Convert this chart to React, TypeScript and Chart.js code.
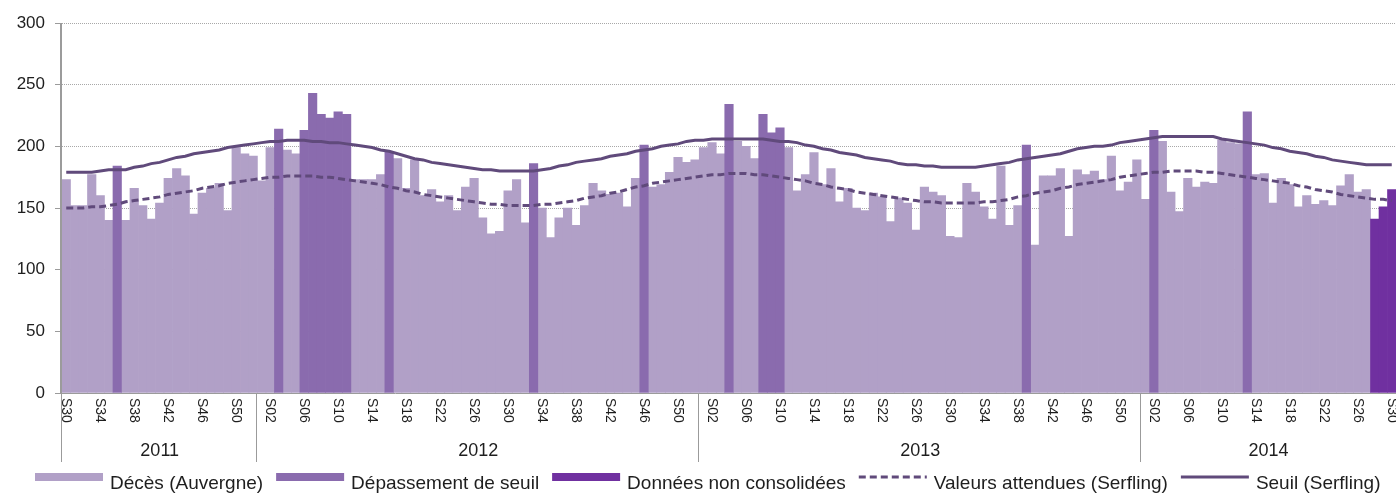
import React, { useEffect, useRef } from 'react';
import { Chart, registerables } from 'chart.js';

Chart.register(...registerables);

// ---- Categories ----
const YEARS = ['2011', '2012', '2013', '2014'];
const FIRST_WEEK = [30, 1, 1, 1];
const LAST_WEEK = [52, 52, 52, 30];

// ---- Tick labels shown on the week axis ----
const TICKS_2011 = ['S30', 'S34', 'S38', 'S42', 'S46', 'S50'];
const TICKS_2012 = ['S02', 'S06', 'S10', 'S14', 'S18', 'S22', 'S26', 'S30', 'S34', 'S38', 'S42', 'S46', 'S50'];
const TICKS_2013 = ['S02', 'S06', 'S10', 'S14', 'S18', 'S22', 'S26', 'S30', 'S34', 'S38', 'S42', 'S46', 'S50'];
const TICKS_2014 = ['S02', 'S06', 'S10', 'S14', 'S18', 'S22', 'S26', 'S30'];

// ---- Weekly deaths (Auvergne) ----
const DEATHS_2011 = [173, 152, 152, 177, 160, 140, 184, 140, 166, 152, 141, 154, 174, 182, 176, 145, 162, 166, 170, 148, 199, 194, 192];
const DEATHS_2012 = [172, 199, 214, 197, 194, 213, 243, 226, 223, 228, 226, 173, 173, 173, 177, 196, 190, 166, 189, 160, 165, 155, 160, 148, 167, 174, 142, 129, 131, 164, 173, 138, 186, 150, 126, 142, 150, 136, 152, 170, 164, 161, 162, 151, 174, 201, 167, 169, 179, 191, 187, 189];
const DEATHS_2013 = [199, 203, 194, 234, 204, 200, 190, 226, 211, 215, 199, 164, 177, 195, 169, 182, 155, 166, 150, 148, 162, 159, 139, 158, 154, 132, 167, 163, 160, 127, 126, 170, 163, 151, 141, 184, 136, 152, 201, 120, 176, 176, 182, 127, 181, 177, 180, 173, 192, 164, 171, 189];
const DEATHS_2014 = [157, 213, 204, 163, 147, 174, 167, 171, 170, 205, 203, 202, 228, 177, 178, 154, 174, 169, 151, 160, 153, 156, 152, 168, 177, 163, 165, 141, 151, 165];

// ---- Weeks above threshold / provisional weeks ----
const EXCEEDED_2011 = ['S36'];
const EXCEEDED_2012 = ['S03', 'S06', 'S07', 'S08', 'S09', 'S10', 'S11', 'S16', 'S33', 'S46'];
const EXCEEDED_2013 = ['S04', 'S08', 'S09', 'S10', 'S39'];
const EXCEEDED_2014 = ['S02', 'S13'];
const PROVISIONAL_2014 = ['S28', 'S29', 'S30'];

// ---- Serfling threshold ----
const SEUIL_2011 = [179, 179, 179, 179, 180, 181, 181, 181, 183, 184, 186, 187, 189, 191, 192, 194, 195, 196, 197, 199, 200, 201, 202];
const SEUIL_2012 = [203, 204, 204, 205, 205, 205, 204, 204, 203, 203, 202, 201, 200, 199, 197, 196, 194, 192, 190, 189, 187, 186, 185, 184, 183, 182, 181, 181, 180, 180, 180, 180, 180, 181, 182, 184, 185, 187, 188, 189, 190, 192, 193, 194, 196, 197, 198, 200, 201, 202, 204, 205];
const SEUIL_2013 = [205, 206, 206, 206, 206, 206, 206, 206, 205, 204, 204, 203, 201, 200, 198, 197, 195, 194, 193, 191, 190, 189, 188, 186, 185, 185, 184, 184, 183, 183, 183, 183, 183, 184, 185, 186, 187, 189, 190, 191, 192, 193, 194, 196, 198, 199, 200, 200, 201, 203, 204, 205];
const SEUIL_2014 = [206, 207, 208, 208, 208, 208, 208, 208, 208, 206, 205, 204, 203, 202, 201, 199, 198, 196, 195, 194, 192, 191, 189, 188, 187, 186, 185, 185, 185, 185];

// ---- Serfling expected values ----
const ATTENDU_2011 = [150, 150, 150, 151, 151, 152, 153, 155, 156, 157, 158, 159, 161, 162, 163, 164, 166, 167, 168, 170, 171, 172, 173];
const ATTENDU_2012 = [174, 175, 175, 176, 176, 176, 176, 175, 175, 174, 173, 172, 171, 170, 169, 167, 166, 164, 163, 161, 160, 159, 158, 157, 156, 155, 154, 153, 153, 152, 152, 152, 152, 153, 153, 154, 155, 156, 158, 159, 160, 162, 163, 165, 167, 168, 170, 171, 172, 173, 174, 175];
const ATTENDU_2013 = [176, 177, 177, 178, 178, 178, 177, 177, 176, 175, 174, 173, 172, 170, 169, 167, 166, 165, 163, 162, 161, 160, 159, 158, 157, 156, 155, 155, 154, 154, 154, 154, 154, 155, 155, 156, 157, 159, 160, 162, 163, 164, 166, 167, 169, 170, 171, 172, 173, 175, 176, 177];
const ATTENDU_2014 = [178, 179, 179, 180, 180, 180, 180, 179, 179, 178, 177, 176, 175, 174, 173, 172, 171, 170, 168, 167, 165, 164, 163, 161, 160, 159, 158, 157, 157, 156];

// ---- Colours ----
const C_LIGHT = '#b1a0c7';
const C_EXCEEDED = '#8a6bae';
const C_PROVISIONAL = '#7030a0';
const C_LINE = '#604a7b';
const FONT = '"Liberation Sans", Arial, sans-serif';
const TEXT = '#1e1e1e';

const LEGEND_LABELS = ['Décès (Auvergne)', 'Dépassement de seuil', 'Données non consolidées', 'Valeurs attendues (Serfling)', 'Seuil (Serfling)'];

const pad2 = (n: number) => (n < 10 ? '0' + n : '' + n);

function buildTable() {
  const deaths = [DEATHS_2011, DEATHS_2012, DEATHS_2013, DEATHS_2014];
  const seuil = [SEUIL_2011, SEUIL_2012, SEUIL_2013, SEUIL_2014];
  const attendu = [ATTENDU_2011, ATTENDU_2012, ATTENDU_2013, ATTENDU_2014];
  const exceeded = [EXCEEDED_2011, EXCEEDED_2012, EXCEEDED_2013, EXCEEDED_2014];
  const provisional = [[], [], [], PROVISIONAL_2014];
  const ticks = [TICKS_2011, TICKS_2012, TICKS_2013, TICKS_2014];
  const labels: string[] = [];
  const tickText: (string | null)[] = [];
  const normal: (number | null)[] = [];
  const over: (number | null)[] = [];
  const prov: (number | null)[] = [];
  const lineSeuil: number[] = [];
  const lineAttendu: number[] = [];
  const groups: { year: string; start: number; end: number }[] = [];
  YEARS.forEach((year, y) => {
    const start = labels.length;
    for (let w = FIRST_WEEK[y]; w <= LAST_WEEK[y]; w++) {
      const j = w - FIRST_WEEK[y];
      const wk = 'S' + pad2(w);
      labels.push(year + '-' + wk);
      tickText.push(ticks[y].includes(wk) ? wk : null);
      const v = deaths[y][j];
      const isProv = (provisional[y] as string[]).includes(wk);
      const isOver = exceeded[y].includes(wk);
      normal.push(!isProv && !isOver ? v : null);
      over.push(isOver ? v : null);
      prov.push(isProv ? v : null);
      lineSeuil.push(seuil[y][j]);
      lineAttendu.push(attendu[y][j]);
    }
    groups.push({ year, start, end: labels.length - 1 });
  });
  return { labels, tickText, normal, over, prov, lineSeuil, lineAttendu, groups };
}

export default function App() {
  const canvasRef = useRef<HTMLCanvasElement | null>(null);

  useEffect(() => {
    const canvas = canvasRef.current;
    if (!canvas) return;
    const t = buildTable();

    const decor = {
      id: 'decor',
      afterDatasetsDraw(chart: any) {
        const { ctx, chartArea: a } = chart;
        ctx.save();
        ctx.strokeStyle = '#9b9b9b';
        ctx.lineWidth = 2;
        ctx.beginPath();
        ctx.moveTo(a.left - 1, a.top);
        ctx.lineTo(a.left - 1, a.bottom);
        ctx.stroke();
        ctx.lineWidth = 1;
        ctx.beginPath();
        ctx.moveTo(a.left, a.bottom + 0.5);
        ctx.lineTo(a.right, a.bottom + 0.5);
        ctx.stroke();
        ctx.restore();
      },
      afterDraw(chart: any) {
        const { ctx, chartArea: a } = chart;
        const xs = chart.scales.x;
        ctx.save();
        // week labels, rotated clockwise
        ctx.fillStyle = TEXT;
        ctx.font = '14px ' + FONT;
        ctx.textAlign = 'left';
        ctx.textBaseline = 'middle';
        t.tickText.forEach((txt, i) => {
          if (!txt) return;
          const px = xs.getPixelForValue(i);
          ctx.save();
          ctx.translate(px, a.bottom + 5);
          ctx.rotate(Math.PI / 2);
          ctx.fillText(txt, 0, 0);
          ctx.restore();
        });
        // year groups
        ctx.strokeStyle = '#9b9b9b';
        ctx.lineWidth = 1;
        ctx.font = '18px ' + FONT;
        ctx.textAlign = 'center';
        ctx.textBaseline = 'alphabetic';
        t.groups.forEach((g) => {
          const l = xs.getPixelForValue(g.start - 0.5);
          const r = Math.min(xs.getPixelForValue(g.end + 0.5), chart.width);
          ctx.beginPath();
          ctx.moveTo(Math.round(l) - 0.5, a.bottom);
          ctx.lineTo(Math.round(l) - 0.5, a.bottom + 69);
          ctx.stroke();
          ctx.fillText(g.year, (l + r) / 2, a.bottom + 63);
        });
        // legend
        const ly = a.bottom + 84;
        const boxW = 68;
        let x = 35;
        ctx.font = '19px ' + FONT;
        ctx.textAlign = 'left';
        const kinds = ['box', 'box', 'box', 'dash', 'line'];
        const colors = [C_LIGHT, C_EXCEEDED, C_PROVISIONAL, C_LINE, C_LINE];
        LEGEND_LABELS.forEach((lab, i) => {
          if (kinds[i] === 'box') {
            ctx.fillStyle = colors[i];
            ctx.fillRect(x, ly - 4, boxW, 8);
          } else {
            ctx.strokeStyle = colors[i];
            ctx.lineWidth = 3;
            ctx.setLineDash(kinds[i] === 'dash' ? [7, 4] : []);
            ctx.beginPath();
            ctx.moveTo(x, ly);
            ctx.lineTo(x + boxW, ly);
            ctx.stroke();
            ctx.setLineDash([]);
          }
          ctx.fillStyle = TEXT;
          ctx.fillText(lab, x + boxW + 7, ly + 12);
          x += boxW + 7 + ctx.measureText(lab).width + 13;
        });
        ctx.restore();
      },
    };

    const chart = new Chart(canvas, {
      type: 'bar',
      data: {
        labels: t.labels,
        datasets: [
          {
            type: 'line',
            label: LEGEND_LABELS[4],
            data: t.lineSeuil,
            borderColor: C_LINE,
            borderWidth: 3,
            pointRadius: 0,
            tension: 0,
            fill: false,
          } as any,
          {
            type: 'line',
            label: LEGEND_LABELS[3],
            data: t.lineAttendu,
            borderColor: C_LINE,
            borderWidth: 3,
            borderDash: [7, 4],
            pointRadius: 0,
            tension: 0,
            fill: false,
          } as any,
          {
            label: LEGEND_LABELS[2],
            data: t.prov,
            backgroundColor: C_PROVISIONAL,
            barPercentage: 1,
            categoryPercentage: 1,
            grouped: false,
            borderWidth: 0,
          } as any,
          {
            label: LEGEND_LABELS[1],
            data: t.over,
            backgroundColor: C_EXCEEDED,
            barPercentage: 1,
            categoryPercentage: 1,
            grouped: false,
            borderWidth: 0,
          } as any,
          {
            label: LEGEND_LABELS[0],
            data: t.normal,
            backgroundColor: C_LIGHT,
            barPercentage: 1,
            categoryPercentage: 1,
            grouped: false,
            borderWidth: 0,
          } as any,
        ],
      },
      options: {
        animation: false,
        responsive: false,
        layout: { padding: { top: 23, left: 0, right: 0, bottom: 0 } },
        plugins: {
          legend: { display: false },
          tooltip: { enabled: false },
        },
        scales: {
          x: {
            type: 'category',
            offset: true,
            ticks: { display: false },
            grid: { display: false },
            border: { display: false },
            afterFit: (s: any) => {
              s.height = 101;
            },
          },
          y: {
            min: 0,
            max: 300,
            ticks: {
              stepSize: 50,
              padding: 10,
              color: TEXT,
              font: { size: 17, family: FONT },
            },
            grid: {
              color: '#a8a8a8',
              lineWidth: 1,
              tickLength: 7,
              tickColor: '#9b9b9b',
              tickBorderDash: [],
            },
            border: { display: false, dash: [1, 1] },
            afterFit: (s: any) => {
              s.width = 62;
            },
          },
        },
      } as any,
      plugins: [decor],
    });

    return () => {
      chart.destroy();
    };
  }, []);

  return (
    <div style={{ position: 'absolute', left: 0, top: 0, width: 1396, height: 494, background: '#fff' }}>
      <canvas ref={canvasRef} width={1396} height={494} style={{ display: 'block' }} />
    </div>
  );
}
